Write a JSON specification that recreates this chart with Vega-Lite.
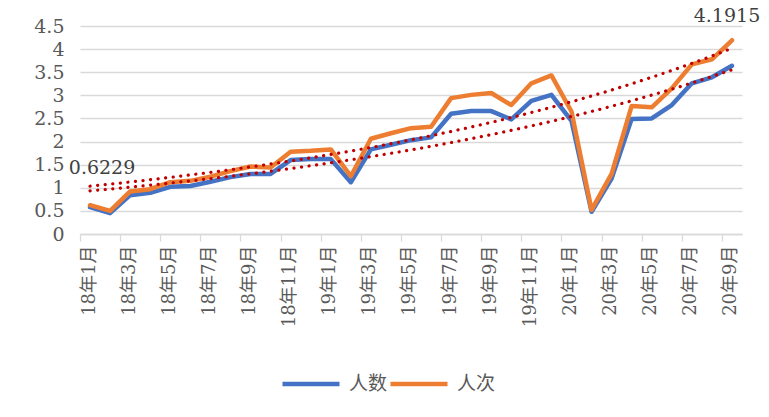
{
  "$schema": "https://vega.github.io/schema/vega-lite/v6.json",
  "width": 662,
  "height": 208,
  "autosize": {"type": "none"},
  "padding": {"left": 80, "top": 26, "right": 27, "bottom": 183},
  "background": "white",
  "config": {"view": {"stroke": null}, "font": "DejaVu Serif, Noto Sans CJK SC"},
  "data": {
    "values": [
      {"idx": 0, "series": "人数", "value": 0.58},
      {"idx": 1, "series": "人数", "value": 0.45},
      {"idx": 2, "series": "人数", "value": 0.84},
      {"idx": 3, "series": "人数", "value": 0.89},
      {"idx": 4, "series": "人数", "value": 1.02},
      {"idx": 5, "series": "人数", "value": 1.04},
      {"idx": 6, "series": "人数", "value": 1.13},
      {"idx": 7, "series": "人数", "value": 1.23},
      {"idx": 8, "series": "人数", "value": 1.3},
      {"idx": 9, "series": "人数", "value": 1.3},
      {"idx": 10, "series": "人数", "value": 1.6},
      {"idx": 11, "series": "人数", "value": 1.62},
      {"idx": 12, "series": "人数", "value": 1.62},
      {"idx": 13, "series": "人数", "value": 1.12},
      {"idx": 14, "series": "人数", "value": 1.83},
      {"idx": 15, "series": "人数", "value": 1.93},
      {"idx": 16, "series": "人数", "value": 2.03},
      {"idx": 17, "series": "人数", "value": 2.09},
      {"idx": 18, "series": "人数", "value": 2.6},
      {"idx": 19, "series": "人数", "value": 2.66},
      {"idx": 20, "series": "人数", "value": 2.66},
      {"idx": 21, "series": "人数", "value": 2.48},
      {"idx": 22, "series": "人数", "value": 2.88},
      {"idx": 23, "series": "人数", "value": 3.01},
      {"idx": 24, "series": "人数", "value": 2.45},
      {"idx": 25, "series": "人数", "value": 0.48},
      {"idx": 26, "series": "人数", "value": 1.2},
      {"idx": 27, "series": "人数", "value": 2.49},
      {"idx": 28, "series": "人数", "value": 2.5},
      {"idx": 29, "series": "人数", "value": 2.79},
      {"idx": 30, "series": "人数", "value": 3.26},
      {"idx": 31, "series": "人数", "value": 3.39},
      {"idx": 32, "series": "人数", "value": 3.64},
      {"idx": 0, "series": "人次", "value": 0.6229},
      {"idx": 1, "series": "人次", "value": 0.5},
      {"idx": 2, "series": "人次", "value": 0.92},
      {"idx": 3, "series": "人次", "value": 0.97},
      {"idx": 4, "series": "人次", "value": 1.12},
      {"idx": 5, "series": "人次", "value": 1.15},
      {"idx": 6, "series": "人次", "value": 1.24},
      {"idx": 7, "series": "人次", "value": 1.36},
      {"idx": 8, "series": "人次", "value": 1.46},
      {"idx": 9, "series": "人次", "value": 1.44},
      {"idx": 10, "series": "人次", "value": 1.78},
      {"idx": 11, "series": "人次", "value": 1.8},
      {"idx": 12, "series": "人次", "value": 1.83},
      {"idx": 13, "series": "人次", "value": 1.25},
      {"idx": 14, "series": "人次", "value": 2.06},
      {"idx": 15, "series": "人次", "value": 2.18},
      {"idx": 16, "series": "人次", "value": 2.29},
      {"idx": 17, "series": "人次", "value": 2.32},
      {"idx": 18, "series": "人次", "value": 2.94},
      {"idx": 19, "series": "人次", "value": 3.01},
      {"idx": 20, "series": "人次", "value": 3.05},
      {"idx": 21, "series": "人次", "value": 2.79},
      {"idx": 22, "series": "人次", "value": 3.26},
      {"idx": 23, "series": "人次", "value": 3.43},
      {"idx": 24, "series": "人次", "value": 2.65},
      {"idx": 25, "series": "人次", "value": 0.52},
      {"idx": 26, "series": "人次", "value": 1.3},
      {"idx": 27, "series": "人次", "value": 2.77},
      {"idx": 28, "series": "人次", "value": 2.74},
      {"idx": 29, "series": "人次", "value": 3.15},
      {"idx": 30, "series": "人次", "value": 3.67},
      {"idx": 31, "series": "人次", "value": 3.78},
      {"idx": 32, "series": "人次", "value": 4.1915}
    ]
  },
  "encoding": {
    "x": {
      "field": "idx",
      "type": "quantitative",
      "scale": {"domain": [-0.5, 32.5], "nice": false, "zero": false},
      "axis": {
        "title": null,
        "grid": false,
        "values": [-0.5, 1.5, 3.5, 5.5, 7.5, 9.5, 11.5, 13.5, 15.5, 17.5, 19.5, 21.5, 23.5, 25.5, 27.5, 29.5, 31.5],
        "labelExpr": "(18 + floor((datum.value + 0.5) / 12)) + '年' + (((datum.value + 0.5) % 12) + 1) + '月'",
        "labelAngle": -90,
        "labelAlign": "right",
        "labelBaseline": "middle",
        "labelOffset": 9,
        "labelPadding": 4,
        "labelFontSize": 18,
        "labelColor": "#595959",
        "labelFont": "DejaVu Serif, Noto Sans CJK SC",
        "labelOverlap": false,
        "labelBound": false,
        "labelFlush": false,
        "tickSize": 7,
        "tickColor": "#D9D9D9",
        "tickWidth": 1.3,
        "domainColor": "#D9D9D9",
        "domainWidth": 1.3
      }
    },
    "y": {
      "field": "value",
      "type": "quantitative",
      "scale": {"domain": [0, 4.5], "nice": false},
      "axis": {
        "title": null,
        "values": [0, 0.5, 1, 1.5, 2, 2.5, 3, 3.5, 4, 4.5],
        "format": "~g",
        "domain": false,
        "ticks": false,
        "labelPadding": 16,
        "labelFontSize": 19,
        "labelColor": "#595959",
        "labelFont": "DejaVu Serif",
        "gridColor": "#D9D9D9",
        "gridWidth": 1.3
      }
    }
  },
  "layer": [
    {
      "mark": {"type": "line", "strokeWidth": 4.5, "strokeCap": "round", "strokeJoin": "round"},
      "encoding": {
        "color": {
          "field": "series",
          "type": "nominal",
          "scale": {"domain": ["人数", "人次"], "range": ["#4472C4", "#ED7D31"]},
          "legend": {
            "orient": "none",
            "legendX": 200,
            "legendY": 327,
            "direction": "horizontal",
            "title": null,
            "padding": 0,
            "symbolType": "stroke",
            "symbolSize": 3249,
            "symbolStrokeWidth": 4.5,
            "labelFontSize": 19,
            "labelColor": "#595959",
            "labelFont": "Noto Sans CJK SC",
            "labelOffset": 7,
            "columnPadding": -8
          }
        }
      }
    },
    {
      "transform": [{"regression": "value", "on": "idx", "groupby": ["series"], "method": "exp"}],
      "mark": {"type": "line", "color": "#C00000", "strokeWidth": 3.2, "strokeCap": "round", "strokeDash": [0.1, 7.5]},
      "encoding": {"detail": {"field": "series", "type": "nominal"}}
    },
    {
      "transform": [{"filter": "datum.series === '人次' && datum.idx === 32"}],
      "mark": {"type": "text", "baseline": "bottom", "align": "center", "dy": -14, "dx": -5, "fontSize": 19, "color": "#404040", "font": "DejaVu Serif"},
      "encoding": {"text": {"field": "value", "type": "quantitative", "format": ".4f"}}
    },
    {
      "transform": [{"filter": "datum.series === '人次' && datum.idx === 0"}],
      "mark": {"type": "text", "baseline": "bottom", "align": "center", "dy": -27, "dx": 12, "fontSize": 19, "color": "#404040", "font": "DejaVu Serif"},
      "encoding": {"text": {"field": "value", "type": "quantitative", "format": ".4f"}}
    }
  ]
}
